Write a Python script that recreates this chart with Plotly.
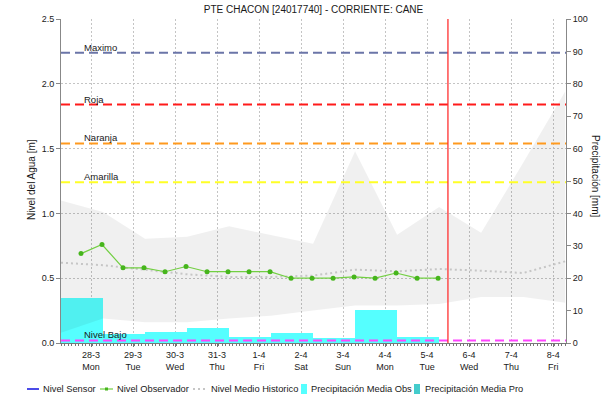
import plotly.graph_objects as go

# ---- data -------------------------------------------------------------
# x positions are in days from the start of the plotted window
day_labels = ["28-3<br>Mon", "29-3<br>Tue", "30-3<br>Wed", "31-3<br>Thu", "1-4<br>Fri",
              "2-4<br>Sat", "3-4<br>Sun", "4-4<br>Mon", "5-4<br>Tue", "6-4<br>Wed",
              "7-4<br>Thu", "8-4<br>Fri"]
label_pos = [0.714, 1.714, 2.714, 3.714, 4.714, 5.714, 6.714, 7.714, 8.714, 9.714,
             10.714, 11.714]

# observer readings (m), twice a day
obs_t = [0.476, 0.976, 1.476, 1.976, 2.476, 2.976, 3.476, 3.976, 4.476, 4.976,
         5.476, 5.976, 6.476, 6.976, 7.476, 7.976, 8.476, 8.976]
obs_level = [0.69, 0.76, 0.58, 0.58, 0.55, 0.59, 0.55, 0.55, 0.55, 0.55,
             0.50, 0.50, 0.50, 0.51, 0.50, 0.54, 0.50, 0.50]

# historical statistics (m), one value per day boundary
hist_t = [0, 1, 2, 3, 4, 5, 6, 7, 8, 9, 10, 11, 12]
hist_max = [1.10, 1.01, 0.805, 0.82, 0.90, 0.835, 0.766, 1.48, 0.835, 1.05, 0.85, 1.39, 1.94]
hist_min = [0.08, 0.19, 0.16, 0.16, 0.19, 0.21, 0.25, 0.29, 0.29, 0.30, 0.355, 0.355, 0.31]
hist_mean = [0.62, 0.60, 0.565, 0.53, 0.51, 0.51, 0.52, 0.566, 0.553, 0.571, 0.558, 0.54, 0.63]

# daily observed mean precipitation (mm)
rain_day = [0.5, 1.5, 2.5, 3.5, 4.5, 5.5, 6.5, 7.5, 8.5]
rain_mm = [14.0, 2.8, 3.4, 4.7, 1.7, 3.1, 1.6, 10.3, 1.9]

# alert thresholds (m)
threshold_names = ["Maximo", "Roja", "Naranja", "Amarilla", "Nivel Bajo"]
threshold_values = [2.24, 1.84, 1.54, 1.24, 0.02]
threshold_colors = ["#6b75a8", "#ff1a1a", "#ff9a1f", "#ffff26", "#ff44ff"]

now_t = 9.21
x_range = [0, 12.02]

FONT = "Liberation Sans, Arial, sans-serif"
TXT = "#1a1a1a"
GRID = "#c4c4c4"

# plot area in pixels
L, R, T, B = 61, 566, 19, 343


def px(x):
    return (x - L) / (R - L)


def py(y):
    return (B - y) / (B - T)


fig = go.Figure()

# precipitation bars on the right axis
fig.add_trace(go.Bar(x=rain_day, y=rain_mm, width=1.0, yaxis="y2",
                     marker=dict(color="#55ffff", line=dict(width=0)),
                     name="Precipitación Media Obs", showlegend=False))

# historical range band, drawn translucent above the bars
fig.add_trace(go.Scatter(x=hist_t, y=hist_min, yaxis="y3", mode="lines",
                         line=dict(width=0), showlegend=False, hoverinfo="skip"))
fig.add_trace(go.Scatter(x=hist_t, y=hist_max, yaxis="y3", mode="lines",
                         line=dict(width=0), fill="tonexty",
                         fillcolor="rgba(0,0,0,0.059)", showlegend=False, hoverinfo="skip"))

# historical mean level
fig.add_trace(go.Scatter(x=hist_t, y=hist_mean, yaxis="y3", mode="lines",
                         line=dict(color="#c6c6c6", width=2, dash="2px,3px"),
                         name="Nivel Medio Historico", showlegend=False))

# observer readings
fig.add_trace(go.Scatter(x=obs_t, y=obs_level, yaxis="y3", mode="lines+markers",
                         line=dict(color="#72cf42", width=1.2),
                         marker=dict(color="#46b51c", size=5, symbol="circle"),
                         name="Nivel Observador", showlegend=False))

shapes = []
annotations = []

# thresholds and their labels
for name, val, col in zip(threshold_names, threshold_values, threshold_colors):
    shapes.append(dict(type="line", xref="x domain", x0=0, x1=1, yref="y", y0=val, y1=val,
                       line=dict(color=col, width=2, dash="9px,5px"), layer="above"))
    annotations.append(dict(text=name, x=0.5, xref="x", y=val, yref="y",
                            xanchor="left", yanchor="bottom", yshift=-2, showarrow=False,
                            font=dict(family=FONT, size=9.5, color=TXT)))

# current time marker
shapes.append(dict(type="line", xref="x", x0=now_t, x1=now_t, yref="y domain", y0=0, y1=1,
                   line=dict(color="#ff3030", width=1.3), layer="above"))

# axis titles
annotations.append(dict(text="Nivel del Agua [m]", textangle=-90,
                        x=px(31), xref="paper", y=py(180), yref="paper",
                        xanchor="center", yanchor="middle", showarrow=False,
                        font=dict(family=FONT, size=10, color=TXT)))
annotations.append(dict(text="Precipitación [mm]", textangle=90,
                        x=px(596), xref="paper", y=py(176), yref="paper",
                        xanchor="center", yanchor="middle", showarrow=False,
                        font=dict(family=FONT, size=10, color=TXT)))

# ---- legend along the bottom ---------------------------------------------
ly = 389
legend_font = dict(family=FONT, size=9.3, color=TXT)
shapes.append(dict(type="line", xref="paper", yref="paper", x0=px(27), x1=px(39),
                   y0=py(ly), y1=py(ly), line=dict(color="#1010e0", width=1.5)))
shapes.append(dict(type="line", xref="paper", yref="paper", x0=px(100), x1=px(113),
                   y0=py(ly), y1=py(ly), line=dict(color="#72cf42", width=1.2)))
shapes.append(dict(type="rect", xref="paper", yref="paper", x0=px(105), x1=px(108),
                   y0=py(ly + 1.5), y1=py(ly - 1.5), fillcolor="#46b51c", line=dict(width=0)))
shapes.append(dict(type="line", xref="paper", yref="paper", x0=px(193), x1=px(206),
                   y0=py(ly), y1=py(ly), line=dict(color="#c6c6c6", width=2, dash="2px,3px")))
shapes.append(dict(type="rect", xref="paper", yref="paper", x0=px(301), x1=px(307),
                   y0=py(394), y1=py(384), fillcolor="#55ffff", line=dict(width=0)))
shapes.append(dict(type="rect", xref="paper", yref="paper", x0=px(414), x1=px(420),
                   y0=py(394), y1=py(384), fillcolor="#44cccc", line=dict(width=0)))
for text, x0 in [("Nivel Sensor", 41), ("Nivel Observador", 115),
                 ("Nivel Medio Historico", 209), ("Precipitación Media Obs", 309),
                 ("Precipitación Media Pro", 423)]:
    annotations.append(dict(text=text, x=px(x0), y=py(ly), xref="paper", yref="paper",
                            xanchor="left", yanchor="middle", showarrow=False,
                            font=legend_font))

fig.update_layout(
    width=602, height=405,
    margin=dict(l=L, r=602 - R, t=T, b=405 - B),
    paper_bgcolor="white", plot_bgcolor="white",
    showlegend=False,
    bargap=0,
    font=dict(family=FONT, size=9, color=TXT),
    title=dict(text="PTE CHACON [24017740] - CORRIENTE: CANE", x=px(313.5), xref="paper",
               xanchor="center", y=1 - 9 / 405, yref="container", yanchor="middle",
               font=dict(family=FONT, size=10, color=TXT)),
    xaxis=dict(range=x_range, tickmode="array", tickvals=label_pos, ticktext=day_labels,
               showgrid=True, gridcolor=GRID, gridwidth=1, griddash="2px,2px",
               showline=True, linecolor="#777", linewidth=1,
               ticks="outside", ticklen=3, tickcolor="#777",
               minor=dict(tickmode="linear", tick0=0, dtick=1 / 12, ticks="outside",
                          ticklen=2, tickcolor="#777", showgrid=False),
               zeroline=False, tickfont=dict(family=FONT, size=9, color=TXT), fixedrange=True),
    yaxis=dict(range=[0, 2.5], dtick=0.5, tickformat=".1f",
               showgrid=True, gridcolor=GRID, gridwidth=1, griddash="2px,2px",
               showline=True, linecolor="#888", linewidth=1,
               ticks="outside", ticklen=4, tickcolor="#888", zeroline=False,
               tickfont=dict(family=FONT, size=9, color=TXT)),
    yaxis2=dict(range=[0, 100], dtick=10, overlaying="y", side="right",
                showgrid=False, showline=True, linecolor="#888", linewidth=1,
                ticks="outside", ticklen=4, tickcolor="#888", zeroline=False,
                tickfont=dict(family=FONT, size=9, color=TXT)),
    yaxis3=dict(range=[0, 2.5], overlaying="y", visible=False, showgrid=False),
    shapes=shapes,
    annotations=annotations,
)

fig.write_html("out.html")
